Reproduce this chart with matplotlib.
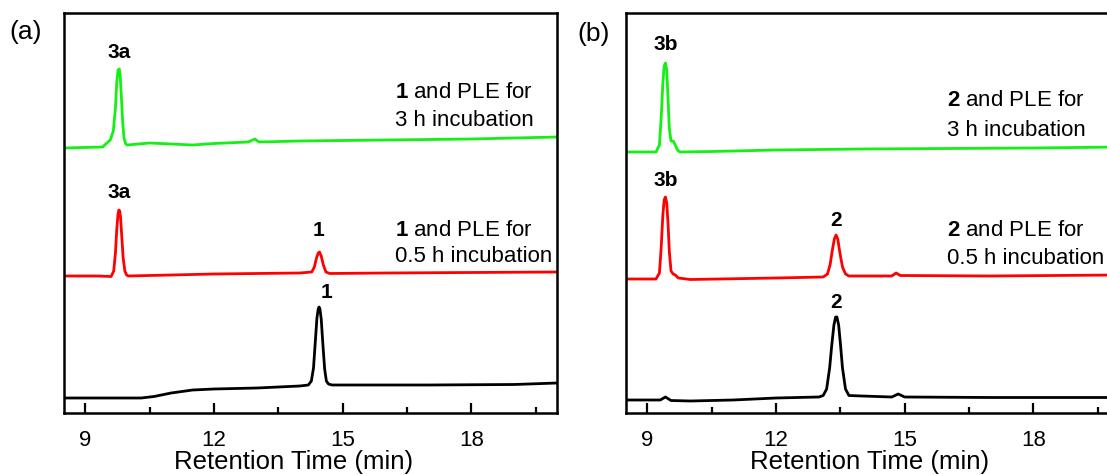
import matplotlib
matplotlib.use("Agg")
import matplotlib.pyplot as plt
from matplotlib.ticker import MultipleLocator

plt.rcParams['font.family'] = ['Liberation Sans', 'DejaVu Sans']
plt.rcParams['mathtext.fontset'] = 'custom'
plt.rcParams['mathtext.rm'] = 'Liberation Sans'
plt.rcParams['mathtext.bf'] = 'Liberation Sans:bold'

# ---- panel (a): compound 1 ----
a_black_t = [8.5, 9.5, 10.3, 10.6, 11.0, 11.5, 12.0, 13.0, 14.0, 14.2, 14.27, 14.32, 14.36,
             14.4, 14.43, 14.45, 14.47, 14.5, 14.54, 14.58, 14.62, 14.67, 14.75, 15.0,
             17.0, 19.0, 20.0]
a_black_y = [15, 15, 15, 16.5, 20, 23, 24, 25, 27, 28, 32, 45, 70,
             95, 104, 106, 104, 94, 68, 44, 32, 29, 28, 28,
             28, 28.5, 30]

a_red_t = [8.5, 9.3, 9.6, 9.66, 9.7, 9.73, 9.76, 9.78, 9.8, 9.82, 9.85, 9.88, 9.92,
           9.96, 10.0, 10.5, 12.0, 14.0, 14.28, 14.34, 14.39, 14.43, 14.46, 14.5,
           14.55, 14.61, 14.7, 16.0, 20.0]
a_red_y = [137, 137, 136.5, 142, 160, 183, 199, 203, 202, 195, 175, 155, 142,
           138, 137, 137.5, 139, 140, 141, 146, 155, 160, 161, 157,
           148, 141, 139.5, 140, 141]

a_green_t = [8.5, 9.4, 9.5, 9.58, 9.65, 9.7, 9.73, 9.76, 9.79, 9.81, 9.84, 9.87, 9.9,
             9.94, 9.98, 10.5, 11.0, 11.5, 12.0, 12.8, 12.95, 13.05, 14.0, 16.0,
             18.0, 20.0]
a_green_y = [265, 266, 270, 273, 282, 305, 330, 343, 344, 338, 315, 290, 275,
             269, 268, 270, 269, 268, 269.5, 271, 274, 271, 272, 273,
             274, 276]

# ---- panel (b): compound 2 ----
b_black_t = [8.5, 9.3, 9.42, 9.55, 10.0, 11.0, 12.0, 13.0, 13.1, 13.18, 13.25, 13.3,
             13.35, 13.39, 13.42, 13.46, 13.5, 13.55, 13.62, 13.7, 14.0, 14.7, 14.85,
             15.0, 17.0, 20.0]
b_black_y = [13, 13, 16, 12.5, 12, 13, 15, 16, 17.5, 24, 45, 68,
             88, 96, 96, 88, 70, 45, 24, 17.5, 17, 16, 19,
             16, 15.5, 15.5]

b_red_t = [8.5, 9.2, 9.28, 9.32, 9.36, 9.39, 9.42, 9.45, 9.48, 9.51, 9.55, 9.6, 9.65,
           9.72, 10.0, 12.0, 13.1, 13.2, 13.26, 13.31, 13.36, 13.4, 13.44, 13.49,
           13.55, 13.62, 13.7, 14.0, 14.7, 14.8, 14.9, 17.0, 20.0]
b_red_y = [134, 134, 140, 165, 198, 213, 216, 210, 190, 162, 142, 139, 138,
           135, 133.5, 135, 136, 139, 148, 162, 174, 178, 174, 160,
           146, 139, 137, 137, 137, 140, 137.5, 137, 138]

b_green_t = [8.5, 9.2, 9.28, 9.32, 9.36, 9.39, 9.42, 9.45, 9.48, 9.51, 9.55, 9.6, 9.65,
             9.7, 9.76, 10.5, 12.0, 14.0, 16.0, 18.0, 20.0]
b_green_y = [261, 261, 268, 295, 330, 347, 350, 343, 315, 285, 272, 272, 268,
             263, 261, 261.5, 263, 264, 264.5, 265, 266]

xticks = [9, 12, 15, 18]

GREEN = '#14f014'
RED = '#ff0000'


def style_axis(ax):
    ax.set_xlim(8.5, 20)
    ax.set_ylim(0, 400)
    ax.set_xticks(xticks)
    ax.xaxis.set_minor_locator(MultipleLocator(1.5))
    ax.set_yticks([])
    ax.tick_params(axis='x', which='both', direction='in', width=1.6, labelsize=16, pad=12)
    ax.tick_params(axis='x', which='major', length=7)
    ax.tick_params(axis='x', which='minor', length=4)
    for s in ax.spines.values():
        s.set_linewidth(1.8)
    ax.set_xlabel("Retention Time (min)", fontsize=18.5)


fig = plt.figure(figsize=(11.07, 4.75), dpi=100)
ax1 = fig.add_axes([64 / 1107, 62 / 475, 493 / 1107, 400 / 475])
ax2 = fig.add_axes([626 / 1107, 62 / 475, 493 / 1107, 400 / 475])

LW = 2.0
# panel (a)
ax1.plot(a_black_t, a_black_y, color='black', lw=LW)
ax1.plot(a_red_t, a_red_y, color=RED, lw=LW)
ax1.plot(a_green_t, a_green_y, color=GREEN, lw=LW)
ax1.text(9.79, 360, "3a", fontsize=15, fontweight='bold', ha='center', va='center')
ax1.text(9.79, 221, "3a", fontsize=15, fontweight='bold', ha='center', va='center')
ax1.text(14.44, 183, "1", fontsize=15, fontweight='bold', ha='center', va='center')
ax1.text(14.63, 121, "1", fontsize=15, fontweight='bold', ha='center', va='center')
ax1.text(16.21, 321, r"$\mathbf{1}$ and PLE for", fontsize=16, va='center')
ax1.text(16.21, 292, "3 h incubation", fontsize=16, va='center')
ax1.text(16.21, 183, r"$\mathbf{1}$ and PLE for", fontsize=16, va='center')
ax1.text(16.21, 156, "0.5 h incubation", fontsize=16, va='center')
style_axis(ax1)
ax1.xaxis.set_label_coords(0.465, -0.092)

# panel (b)
ax2.plot(b_black_t, b_black_y, color='black', lw=LW)
ax2.plot(b_red_t, b_red_y, color=RED, lw=LW)
ax2.plot(b_green_t, b_green_y, color=GREEN, lw=LW)
ax2.text(9.42, 369, "3b", fontsize=15, fontweight='bold', ha='center', va='center')
ax2.text(9.42, 233, "3b", fontsize=15, fontweight='bold', ha='center', va='center')
ax2.text(13.4, 193, "2", fontsize=15, fontweight='bold', ha='center', va='center')
ax2.text(13.4, 111, "2", fontsize=15, fontweight='bold', ha='center', va='center')
ax2.text(15.98, 312, r"$\mathbf{2}$ and PLE for", fontsize=16, va='center')
ax2.text(15.98, 282, "3 h incubation", fontsize=16, va='center')
ax2.text(15.98, 183, r"$\mathbf{2}$ and PLE for", fontsize=16, va='center')
ax2.text(15.98, 155, "0.5 h incubation", fontsize=16, va='center')
style_axis(ax2)
ax2.xaxis.set_label_coords(0.495, -0.092)

fig.text(26 / 1107, 1 - 32 / 475, "(a)", fontsize=19, ha='center', va='center')
fig.text(594 / 1107, 1 - 34 / 475, "(b)", fontsize=19, ha='center', va='center')

fig.savefig("out.png", dpi=100)
